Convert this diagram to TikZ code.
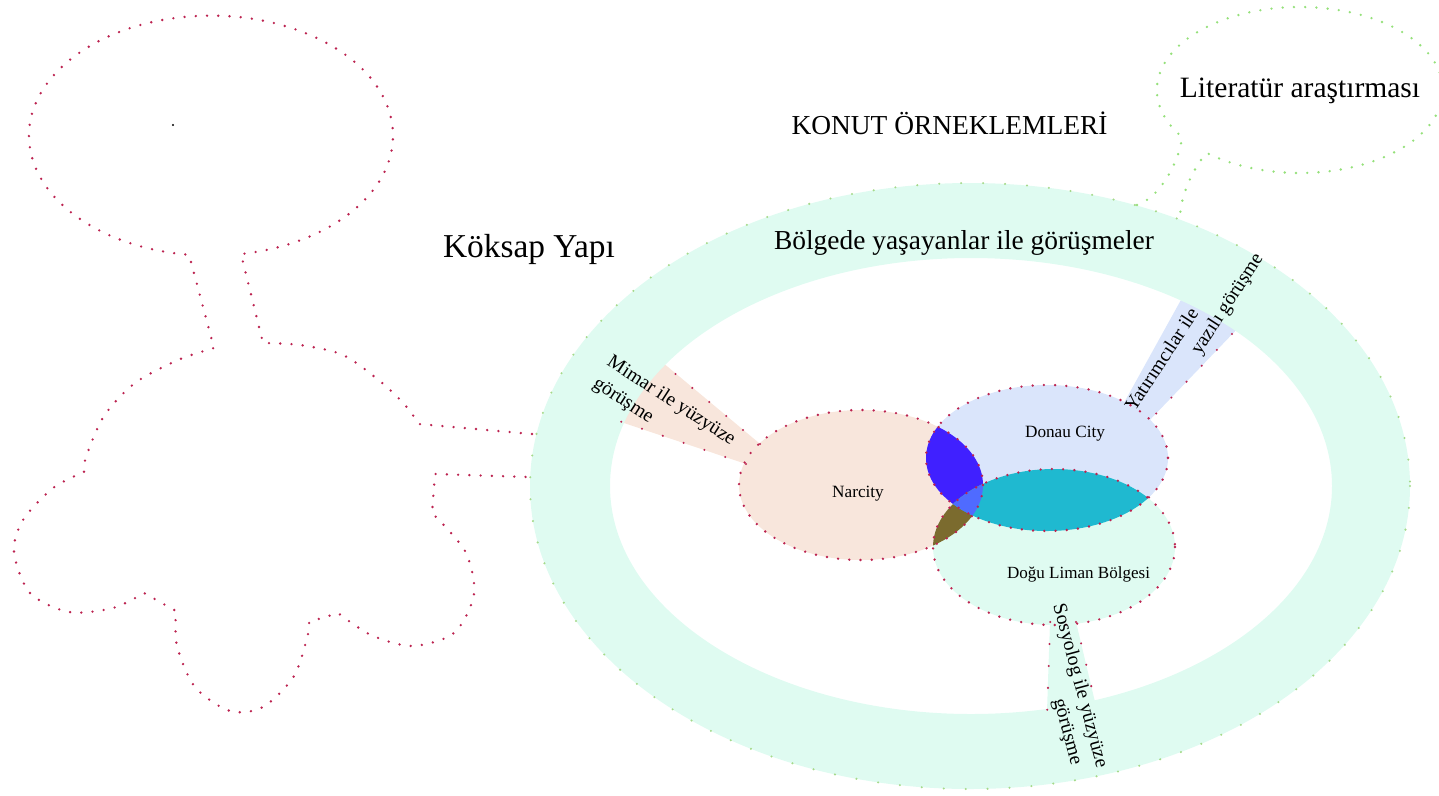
\documentclass[tikz,border=0pt]{standalone}
\usepackage{fontspec}
\setmainfont{Liberation Serif}
\usepackage{tikz}
\usetikzlibrary{%
  calc
}
\definecolor{mint}{HTML}{DFFBF1}
\definecolor{peach}{HTML}{F8E6DC}
\definecolor{paleblue}{HTML}{DAE5FB}
\definecolor{lensblue}{HTML}{4020FF}
\definecolor{lensteal}{HTML}{1FB9D0}
\definecolor{lensolive}{HTML}{7B6B2E}
\definecolor{lensmid}{HTML}{4F6BFF}
\definecolor{dotred}{HTML}{BC2350}
\definecolor{bubblegreen}{HTML}{95E07A}
\definecolor{ringgreen}{HTML}{A5D98A}
\newcommand{\narcity}{(861,485) ellipse [x radius=122, y radius=75]}
\newcommand{\donau}{(1047,458) ellipse [x radius=121, y radius=73]}
\newcommand{\dogu}{(1054,547) ellipse [x radius=121, y radius=78]}
\newcommand{\ringout}{(970,486) ellipse [x radius=440, y radius=303]}
\newcommand{\ringin}{(971,486) ellipse [x radius=361, y radius=228]}
\tikzset{
  dots/.style={draw=#1, line width=1.5pt, line cap=round,
               dash pattern=on 0pt off 6.4pt},
  sparse dots/.style={draw=#1, line width=1.3pt, line cap=round,
               dash pattern=on 0pt off 12.5pt},
  txt/.style={font=\fontsize{#1}{#1}\selectfont, inner sep=0pt}
}

\begin{document}
\begin{tikzpicture}[x=0.02cm, y=-0.02cm,
  side txt/.style={font=\fontsize{11.2}{#1}\selectfont, inner sep=0pt,
                   anchor=center, align=left},
  lens/.style={fill=#1}
]
\useasboundingbox (0,0) rectangle (1439,795);

% the spokes
\fill[peach]    (656,357) -- (765,448) -- (752,466) -- (612,419) -- cycle;
\fill[paleblue] (1182,298) -- (1240,326) -- (1145,425) -- (1120,410) -- cycle;
\fill[mint]     (1050.7,600) -- (1070.8,600) -- (1099.3,720) -- (1046.7,720) -- cycle;

% the ring
\fill[mint, even odd rule] \ringout \ringin;
\draw[sparse dots=ringgreen] \ringout;

% the bubble
\draw[dots=bubblegreen] (1137,205) .. controls (1160,198) and (1180,160) .. (1182,137)
   arc[start angle=145.5, end angle=490.6, x radius=143, y radius=83]
   .. controls (1195,165) and (1180,195) .. (1180,218);

% the cloud
\draw[dots=dotred] (532,434) -- (419,424)
   -- plot[smooth] coordinates {(419,424) (405,405) (381,382) (343,355) (300,345) (263,343)}
   -- (241,254)
   arc[start angle=80.5, end angle=-263.1, x radius=182, y radius=120]
   -- (214,348)
   -- plot[smooth] coordinates {(214,348) (178,360) (135,383) (104,416) (86,457) (84,472)}
   -- plot[smooth] coordinates {(84,472) (53,488) (23,520) (14,552) (30,593) (69,612)
                                 (113,608) (144,593)}
   -- (176,611)
   -- plot[smooth] coordinates {(176,611) (177,646) (195,687) (230,711) (263,707)
                                 (294,676) (308,634) (309,622)}
   -- (338,613)
   -- plot[smooth] coordinates {(338,613) (371,635) (412,646) (454,633) (474,594)
                                 (465,551) (432,513)}
   -- (435,474) -- (527,477);
\fill (173,125) circle[radius=1.2];

% the samples
\fill[peach] \narcity;
\fill[paleblue] \donau;
\fill[mint] \dogu;
\begin{scope}
  \clip \narcity;
  \fill[lens=lensblue] \donau;
  \fill[lens=lensolive] \dogu;
\end{scope}
\begin{scope}
  \clip \donau;
  \fill[lens=lensteal] \dogu;
  \clip \narcity;
  \fill[lens=lensmid] \dogu;
\end{scope}
\draw[dots=dotred] \narcity;
\draw[dots=dotred] \donau;
\draw[dots=dotred] \dogu;
\foreach \ax/\ay/\bx/\by in {760/444/661/362, 746/464/619/421,
                             1232/334/1150/420,
                             1050.2/622/1047.2/711, 1076/622/1095/702}
  \draw[sparse dots=dotred] (\ax,\ay) -- (\bx,\by);

% the texts
\node[txt=19, anchor=base] (koksap) at (529,257) {Köksap Yapı};
\node[txt=15.6, anchor=base] (konut) at (949.5,134) {KONUT ÖRNEKLEMLERİ};
\node[txt=15.6, anchor=base] (bolgede) at (964,249) {Bölgede yaşayanlar ile görüşmeler};
\node[txt=16.8, anchor=base] (literatur) at (1300,97) {Literatür araştırması};
\node[txt=9.8, anchor=base] (narcityLbl) at (858,497) {Narcity};
\node[txt=9.8, anchor=base] (donauLbl) at (1065,437) {Donau City};
\node[txt=9.7, anchor=base] (doguLbl) at (1078.5,578) {Doğu Liman Bölgesi};
\node[side txt=14.7, rotate=-33] (mimar) at (664,412)
     {Mimar ile yüzyüze\\görüşme};
\node[side txt=13.6, rotate=57] (yatirim) at (1195,333)
     {Yatırımcılar ile\\\hspace*{47.5pt}yazılı görüşme};
\node[side txt=13.6, rotate=-75] (sosyolog) at (1068,689)
     {Sosyolog ile yüzyüze\\\hspace*{52pt}görüşme};
\end{tikzpicture}
\end{document}
